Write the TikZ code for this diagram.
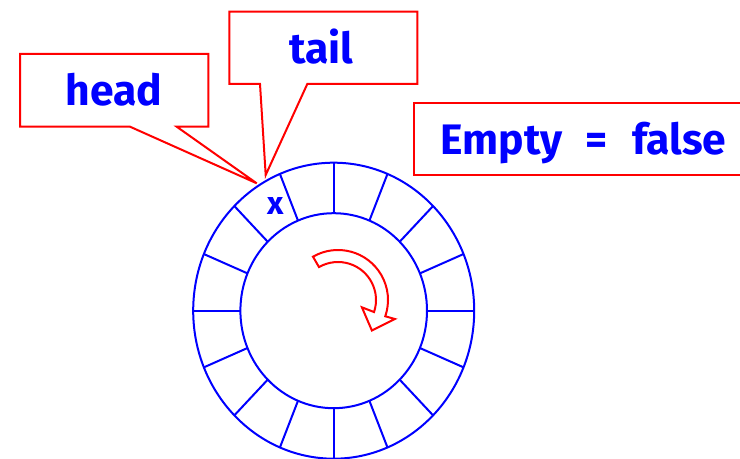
\documentclass[tikz,border=0pt]{standalone}
\usepackage{fontspec}
\setmainfont{Fira Sans}
\usetikzlibrary{calc}
\definecolor{ringblue}{RGB}{0,0,255}
\definecolor{callred}{RGB}{255,0,0}
\begin{document}
\begin{tikzpicture}[x=0.75pt,y=0.75pt,
  ringline/.style={draw=ringblue,line width=1.5pt},
  callout/.style={draw=callred,line width=1.5pt,line join=miter,fill=white},
  label/.style={text=ringblue,font=\fontsize{32}{36}\selectfont\bfseries,inner sep=0pt,anchor=base},
  turn/.style={draw=callred,line width=1.5pt,fill=white,line join=miter}]
\useasboundingbox (0,0) rectangle (740,-459);
\clip (0,0) rectangle (740,-459);

% circular buffer: two ellipses and sixteen slot dividers
\coordinate (c) at (333.7,-310.7);
\draw[ringline] (c) ellipse[x radius=140.5, y radius=148];
\draw[ringline] (c) ellipse[x radius=93.3, y radius=97.5];
\foreach \a in {0,22.5,...,337.5}
  \draw[ringline,shift={(c)}] (\a:93.3 and 97.5) -- (\a:140.5 and 148);

% occupied slot
\node[text=ringblue,font=\fontsize{24}{26}\selectfont\bfseries,inner sep=0pt] (mark) at (276,-206) {x};

% direction of travel
\coordinate (o) at (338,-300);
\draw[turn,shift={(o)}] (120:50) arc[start angle=120, end angle=-19, radius=50]
  -- (-18.5:60) -- (-42:45.6) -- (-17:25) -- (-18.5:38)
  arc[start angle=-18.5, end angle=120, radius=38] -- cycle;

% callouts
\draw[callout] (20,-54) -- (208.3,-54) -- (208.3,-126.7) -- (176.7,-126.7)
  -- (256.7,-183.3) -- (130,-126.7) -- (20,-126.7) -- cycle;
\node[label] (head) at (114,-106) {head};

\draw[callout] (229.3,-11.7) -- (417.3,-11.7) -- (417.3,-84) -- (307.3,-84)
  -- (265.7,-175) -- (260,-84) -- (229.3,-84) -- cycle;
\node[label] (tail) at (321.5,-63.3) {tail};

\draw[callout] (414,-103.3) rectangle (760,-175);
\node[label] (empty) at (583.5,-155) {Empty\hspace{17pt}=\hspace{19pt}false};
\end{tikzpicture}
\end{document}
